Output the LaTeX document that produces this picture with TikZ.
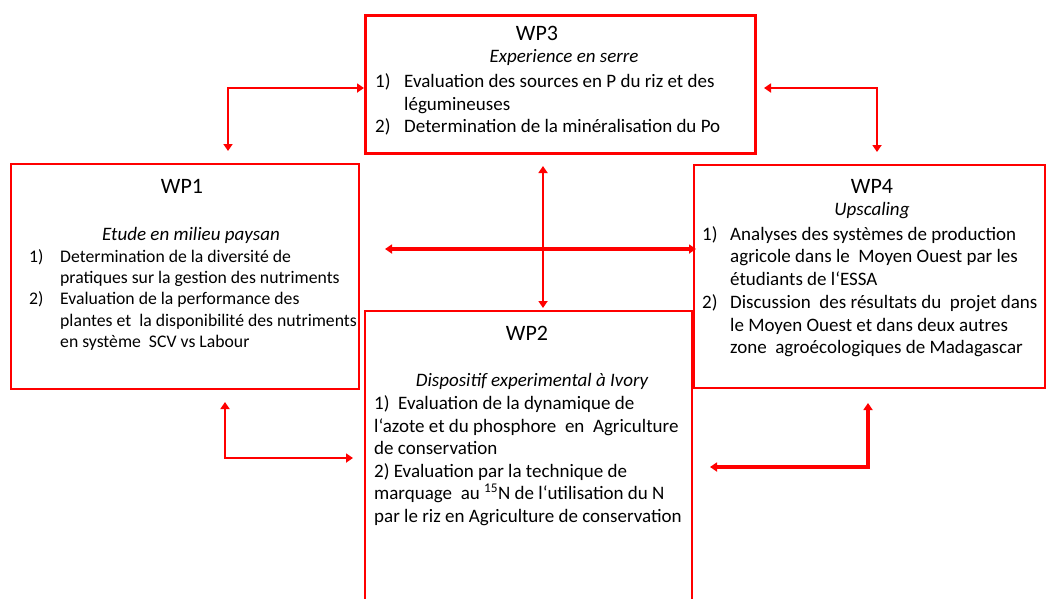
\documentclass[tikz,border=0pt]{standalone}
\usepackage{fontspec}
\setmainfont{Carlito}
\usetikzlibrary{arrows.meta}
\definecolor{linkred}{RGB}{255,0,0}
\begin{document}
\begin{tikzpicture}[x=1pt,y=-1pt,
  box/.style={draw=linkred, line width=2pt, inner sep=0pt},
  ttl/.style={font=\fontsize{22}{26}\selectfont, anchor=base, inner sep=0pt},
  sub/.style={font=\fontsize{19}{22}\selectfont\itshape, anchor=base, inner sep=0pt},
  ln/.style={font=\fontsize{19}{22}\selectfont, anchor=base west, inner sep=0pt},
  lns/.style={font=\fontsize{17.7}{21}\selectfont, anchor=base west, inner sep=0pt},
  link/.style={draw=linkred, line width=2.8pt, {Triangle[length=7pt,width=9pt]}-{Triangle[length=7pt,width=9pt]}},
]
\useasboundingbox (0,0) rectangle (1048,598);

% boxes
\node[box, line width=3pt, minimum width=390pt, minimum height=138pt] (wp3) at (560,84) {};
\node[box, minimum width=348pt, minimum height=225pt] (wp1) at (185,276.5) {};
\node[box, minimum width=351pt, minimum height=223pt] (wp4) at (869.5,276.5) {};
\node[box, minimum width=327pt, minimum height=299pt] (wp2) at (528.5,460.5) {};

% WP3 text
\node[ttl] (wp3t) at (537,40) {WP3};
\node[sub] (wp3s) at (564,62) {Experience en serre};
\node[ln] (wp3n1) at (375,87) {1)};
\node[ln] (wp3a) at (404,87) {Evaluation des sources en P du riz et des};
\node[ln] (wp3b) at (404,110) {légumineuses};
\node[ln] (wp3n2) at (375,132) {2)};
\node[ln] (wp3c) at (404,132) {Determination de la minéralisation du Po};

% WP1 text
\node[ttl] (wp1t) at (182,193) {WP1};
\node[sub] (wp1s) at (191,240) {Etude en milieu paysan};
\node[lns] (wp1n1) at (29,262) {1)};
\node[lns] (wp1a) at (60,262) {Determination de la diversité de};
\node[lns] (wp1b) at (60,283) {pratiques sur la gestion des nutriments};
\node[lns] (wp1n2) at (29,304) {2)};
\node[lns] (wp1c) at (60,304) {Evaluation de la performance des};
\node[lns] (wp1d) at (60,326) {plantes et\ \ la disponibilité des nutriments};
\node[lns] (wp1e) at (60,347) {en système\ \ SCV vs Labour};

% WP4 text
\node[ttl] (wp4t) at (872,193) {WP4};
\node[sub] (wp4s) at (872,215) {Upscaling};
\node[ln] (wp4n1) at (702,240) {1)};
\node[ln] (wp4a) at (730,240) {Analyses des systèmes de production};
\node[ln] (wp4b) at (730,262) {agricole dans le\ \ Moyen Ouest par les};
\node[ln] (wp4c) at (730,285) {étudiants de l‘ESSA};
\node[ln] (wp4n2) at (702,308) {2)};
\node[ln] (wp4d) at (730,308) {Discussion\ \ des résultats du\ \ projet dans};
\node[ln] (wp4e) at (730,331) {le Moyen Ouest et dans deux autres};
\node[ln] (wp4f) at (730,353) {zone\ \ agroécologiques de Madagascar};

% WP2 text
\node[ttl] (wp2t) at (527,340) {WP2};
\node[sub] (wp2s) at (532,386) {Dispositif experimental à Ivory};
\node[ln] (wp2a) at (374,409) {1)\ \ Evaluation de la dynamique de};
\node[ln] (wp2b) at (374,432) {l‘azote et du phosphore\ \ en\ \ Agriculture};
\node[ln] (wp2c) at (374,454) {de conservation};
\node[ln] (wp2d) at (374,477) {2) Evaluation par la technique de};
\node[ln] (wp2e) at (374,499) {marquage\ \ au \textsuperscript{15}N de l‘utilisation du N};
\node[ln] (wp2f) at (374,522) {par le riz en Agriculture de conservation};

% connector end points
\coordinate (c13a) at (228,151);
\coordinate (c13b) at (228,88);
\coordinate (c13c) at (364,88);
\coordinate (c34a) at (764,88);
\coordinate (c34b) at (877,88);
\coordinate (c34c) at (877,152);
\coordinate (cva) at (543,166);
\coordinate (cvb) at (543,308);
\coordinate (cha) at (385,249);
\coordinate (chb) at (696,249);
\coordinate (c12a) at (225,402);
\coordinate (c12b) at (225,458);
\coordinate (c12c) at (353,458);
\coordinate (c42a) at (868,403);
\coordinate (c42b) at (868,467);
\coordinate (c42c) at (710,467);

% connectors
\draw[link] (c13a) -- (c13b) -- (c13c);
\draw[link] (c34a) -- (c34b) -- (c34c);
\draw[link, line width=2.6pt] (cva) -- (cvb);
\draw[link, line width=3.4pt] (cha) -- (chb);
\draw[link] (c12a) -- (c12b) -- (c12c);
\draw[link, line width=3.8pt] (c42a) -- (c42b) -- (c42c);
\end{tikzpicture}
\end{document}
